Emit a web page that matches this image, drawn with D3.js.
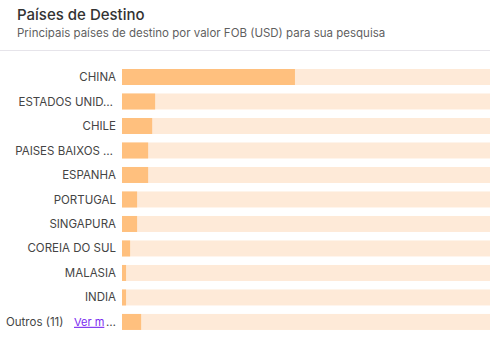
<!DOCTYPE html>
<html>
<head>
<meta charset="utf-8" />
<script src="https://d3js.org/d3.v7.min.js"></script>
<style>
    body { margin: 0; background: #fff; font-family: Inter, "Noto Sans", sans-serif; }
</style>
</head>
<body>
<div id="chart"></div>
<script>
    // destination countries and share of FOB value (%)
    const countries = ["CHINA", "ESTADOS UNID\u2026", "CHILE", "PAISES BAIXOS \u2026", "ESPANHA", "PORTUGAL",
        "SINGAPURA", "COREIA DO SUL", "MALASIA", "INDIA", "Outros (11)"];
    const shares = [47, 9, 8.2, 7.1, 7.1, 4.1, 4.1, 2.2, 1.1, 1.1, 5.2];

    const width = 498, height = 340;
    const svg = d3.select("#chart").append("svg").attr("width", width).attr("height", height);

    svg.append("text").attr("x", 17).attr("y", 20)
        .attr("font-size", 15).attr("font-weight", 500).attr("fill", "#333")
        .text("Países de Destino");
    svg.append("text").attr("x", 17).attr("y", 37)
        .attr("font-size", 11.5).attr("fill", "#5f5f5f")
        .text("Principais países de destino por valor FOB (USD) para sua pesquisa");
    svg.append("line").attr("x1", 0).attr("x2", 490).attr("y1", 50.5).attr("y2", 50.5)
        .attr("stroke", "#e6e4ea");

    const x = d3.scaleLinear().domain([0, 100]).range([122, 490]);
    const y = d3.scaleBand().domain(countries).range([66.55, 332.4]).paddingInner(0.347).paddingOuter(0.1);

    const rows = svg.append("g").selectAll("g").data(countries).join("g");

    rows.append("rect").attr("x", x(0)).attr("y", d => y(d))
        .attr("width", x(100) - x(0)).attr("height", y.bandwidth()).attr("fill", "#feead8");
    rows.append("rect").attr("x", x(0)).attr("y", d => y(d))
        .attr("width", (d, i) => x(shares[i]) - x(0)).attr("height", y.bandwidth()).attr("fill", "#ffc07e");

    // truncated labels sit a little left of the right edge
    rows.filter((d, i) => i < countries.length - 1).append("text")
        .attr("x", d => d.endsWith("\u2026") ? 113 : 116)
        .attr("y", d => y(d) + y.bandwidth() / 2).attr("dy", "0.35em")
        .attr("text-anchor", "end").attr("font-size", 11.5).attr("fill", "#444")
        .text(d => d);

    const last = countries[countries.length - 1];
    const ly = y(last) + y.bandwidth() / 2;
    svg.append("text").attr("x", 6).attr("y", ly).attr("dy", "0.35em")
        .attr("font-size", 11.5).attr("fill", "#444").text(last);
    svg.append("text").attr("x", 74).attr("y", ly).attr("dy", "0.35em")
        .attr("font-size", 11).attr("fill", "#7a2bf0").attr("text-decoration", "underline")
        .text("Ver m");
    svg.append("text").attr("x", 116).attr("y", ly).attr("dy", "0.35em")
        .attr("text-anchor", "end").attr("font-size", 11.5).attr("fill", "#444").text("\u2026");
</script>
</body>
</html>
